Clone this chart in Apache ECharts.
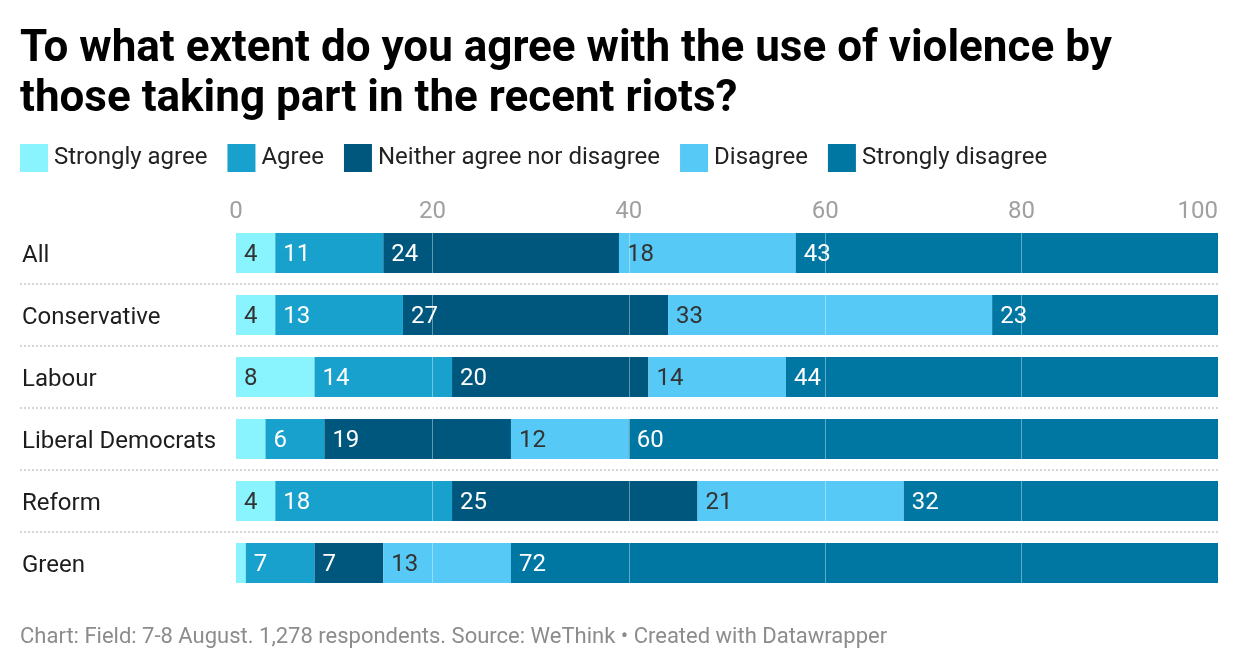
<!DOCTYPE html>
<html>
<head>
<meta charset="utf-8">
<script src="https://cdn.jsdelivr.net/npm/echarts@6/dist/echarts.min.js"></script>
<style>
html,body{margin:0;padding:0;background:#fff;}
#chart{width:1240px;height:672px;}
</style>
</head>
<body>
<div id="chart"></div>
<script>
const categories = ['All', 'Conservative', 'Labour', 'Liberal Democrats', 'Reform', 'Green'];
const seriesNames = ['Strongly agree', 'Agree', 'Neither agree nor disagree', 'Disagree', 'Strongly disagree'];
const stronglyAgree = [4, 4, 8, 3, 4, 1];
const agree = [11, 13, 14, 6, 18, 7];
const neither = [24, 27, 20, 19, 25, 7];
const disagree = [18, 33, 14, 12, 21, 13];
const stronglyDisagree = [43, 23, 44, 60, 32, 72];
const tickValues = [0, 20, 40, 60, 80, 100];

const colors = ['#89f4fe', '#18a1cd', '#00577d', '#56c9f6', '#0077a3'];
const labelColors = ['#333333', '#ffffff', '#ffffff', '#333333', '#ffffff'];
const allData = [stronglyAgree, agree, neither, disagree, stronglyDisagree];

const chart = echarts.init(document.getElementById('chart'), null, {renderer: 'canvas'});
const FONT = 'Roboto, "Noto Sans", sans-serif';

const series = allData.map((d, i) => ({
  name: seriesNames[i],
  type: 'bar',
  stack: 'total',
  xAxisIndex: 0,
  yAxisIndex: 0,
  barWidth: 40,
  data: d,
  itemStyle: {color: colors[i]},
  label: {
    show: true,
    position: 'insideLeft',
    distance: 8,
    offset: [0, 2],
    color: labelColors[i],
    fontSize: 24,
    fontFamily: FONT,
    formatter: p => (p.value < 4 ? '' : String(p.value))
  },
  emphasis: {disabled: true}
}));

const option = {
  animation: false,
  backgroundColor: '#ffffff',
  title: {
    text: 'To what extent do you agree with the use of violence by\nthose taking part in the recent riots?',
    left: 20,
    top: 25,
    padding: 0,
    textStyle: {
      fontFamily: FONT,
      fontWeight: 'bold',
      fontSize: 44,
      lineHeight: 50,
      color: '#000000'
    }
  },
  legend: {
    data: seriesNames,
    left: 20,
    top: 144,
    padding: 0,
    itemWidth: 28,
    itemHeight: 28,
    itemGap: 20,
    icon: 'rect',
    selectedMode: false,
    textStyle: {fontFamily: FONT, fontSize: 24, color: '#222222', padding: [0, 0, 0, 1]}
  },
  graphic: [{
    type: 'text',
    left: 20,
    top: 626,
    style: {
      text: 'Chart: Field: 7-8 August. 1,278 respondents. Source: WeThink • Created with Datawrapper',
      fontFamily: FONT,
      fontSize: 22,
      fill: '#8c8c8c'
    }
  }],
  grid: [
    {left: 236, right: 22, top: 222, height: 372, containLabel: false},
    {left: 20, right: 22, top: 284, height: 248, containLabel: false}
  ],
  xAxis: [
    {
      type: 'value',
      gridIndex: 0,
      position: 'top',
      min: 0,
      max: 100,
      interval: 20,
      z: 10,
      axisLine: {show: false},
      axisTick: {show: false},
      axisLabel: {
        show: true,
        margin: -2,
        fontFamily: FONT,
        fontSize: 24,
        color: '#a0a0a0',
        alignMaxLabel: 'right',
        formatter: v => (tickValues.indexOf(v) >= 0 ? String(v) : '')
      },
      splitLine: {
        show: true,
        showMinLine: false,
        showMaxLine: false,
        lineStyle: {color: 'rgba(255,255,255,0.38)', width: 1}
      }
    },
    {
      type: 'value',
      gridIndex: 1,
      show: false,
      min: 0,
      max: 1,
      splitLine: {show: false}
    }
  ],
  yAxis: [
    {
      type: 'category',
      gridIndex: 0,
      inverse: true,
      data: categories,
      axisLine: {show: false},
      axisTick: {show: false},
      splitLine: {show: false},
      axisLabel: {
        align: 'left',
        verticalAlign: 'middle',
        margin: 214,
        formatter: v => '{c|' + v + '}',
        rich: {
          c: {
            fontFamily: FONT,
            fontSize: 24,
            color: '#1d1d1d',
            padding: [6, 0, 0, 0]
          }
        }
      }
    },
    {
      type: 'value',
      gridIndex: 1,
      min: 0,
      max: 4,
      interval: 1,
      z: 0,
      axisLine: {show: false},
      axisTick: {show: false},
      axisLabel: {show: false},
      splitLine: {show: true, lineStyle: {color: '#d6d6d6', width: 2, type: [2, 2]}}
    }
  ],
  series: series
};

chart.setOption(option);
</script>
</body>
</html>
